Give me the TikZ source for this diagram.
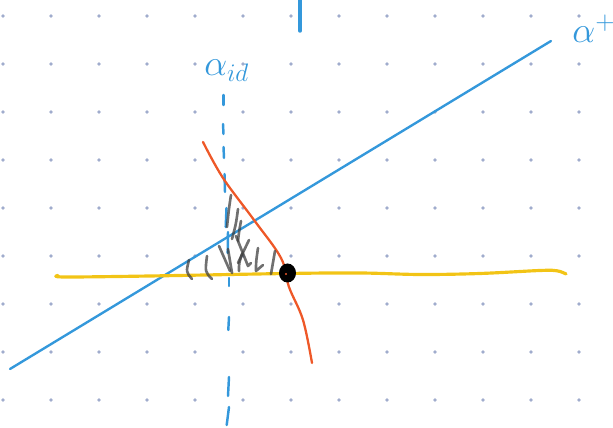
\documentclass[tikz,border=0pt]{standalone}
\usepackage{amsmath,amssymb}
\usepackage{tikz}
\usetikzlibrary{calc}
\definecolor{penblue}{RGB}{52,152,219}
\definecolor{penorange}{RGB}{238,88,40}
\definecolor{penyellow}{RGB}{242,196,22}
\definecolor{gridgray}{RGB}{160,172,205}
\tikzset{
    ink/.style={line cap=round, line join=round},
    blueink/.style={ink, draw=penblue, line width=1.35pt},
    orangeink/.style={ink, draw=penorange, line width=1.3pt},
    yellowink/.style={ink, draw=penyellow, line width=1.8pt},
    hatchink/.style={ink, draw=black!75, opacity=0.75, line width=1.5pt},
    sketchlabel/.style={
        text=penblue,
        inner sep=0pt,
        font=\fontsize{21}{24}\selectfont
    }
}

\begin{document}
\begin{tikzpicture}[x=0.02cm, y=-0.02cm]

\useasboundingbox (0,0) rectangle (613,428);

% dotted paper
\foreach \i in {0,...,12}
    \foreach \j in {0,...,8}
        \fill[gridgray] (3+48*\i, 16+48*\j) circle (1.1pt);

% short mark at the top
\coordinate (top1) at (300,0);
\coordinate (top2) at (300,31);
\draw[blueink, line width=2pt] (top1) -- (top2);

% alpha_id, hand dashed
\foreach \ya/\xa/\yb/\xb in {95/223.5/105/223.5, 124/223/134/223.5,
        147/223.5/158/224, 174/224.5/192/225, 208/226.5/227/225.7,
        232/228/253/227.7, 278/229/286/229, 317/229/330/228.3,
        377/229/396/228, 407/229/425/226.7}
    \draw[blueink, line width=1.4pt] (\xa,\ya) -- (\xb,\yb);

\node[sketchlabel, anchor=base west] (lblid) at (204,76) {$\alpha_{id}$};

% alpha^+
\coordinate (ap1) at (10,369);
\coordinate (ap2) at (551,41);
\draw[blueink] (ap1) -- (ap2);

\node[sketchlabel, anchor=base west] (lblplus) at (572,43) {$\alpha^{+}$};

% yellow line
\draw[yellowink] plot[smooth, tension=0.6] coordinates {
    (58,275.5) (65,277) (150,276) (287,273.5) (360,273) (420,274.5)
    (480,273.5) (540,270.5) (557,270.8) (566,274)};

% orange curve
\draw[orangeink] plot[smooth, tension=0.6] coordinates {
    (203,142) (223,178) (254,220) (281,258) (289,287) (303,320) (312,363)};

% hatching
\draw[hatchink] (231,195) .. controls (229,208) .. (227,227);
\draw[hatchink] (238,209) .. controls (236,224) .. (232,239);
\draw[hatchink] (241,221) .. controls (239,232) .. (238,241);
\draw[hatchink] (219,246) -- (230,271);
\draw[hatchink] (236,236) -- (248,266) -- (251,263);
\draw[hatchink] (249,240) -- (238,263);
\draw[hatchink] (242,254) .. controls (239,263) .. (239,271);
\draw[hatchink] (189,260) .. controls (186,272) .. (192,279);
\draw[hatchink] (207,256) .. controls (205,272) .. (212,279);
\draw[hatchink] (228,249) -- (232,273);
\draw[hatchink] (258,248) .. controls (256,262) .. (256,271) -- (263,265);
\draw[hatchink] (275,251) -- (271,274);

% the point
\fill[black] (287.5,273) ellipse (8.5 and 9.5);
\fill[penorange] (286,274) circle (0.6pt);

\end{tikzpicture}
\end{document}
